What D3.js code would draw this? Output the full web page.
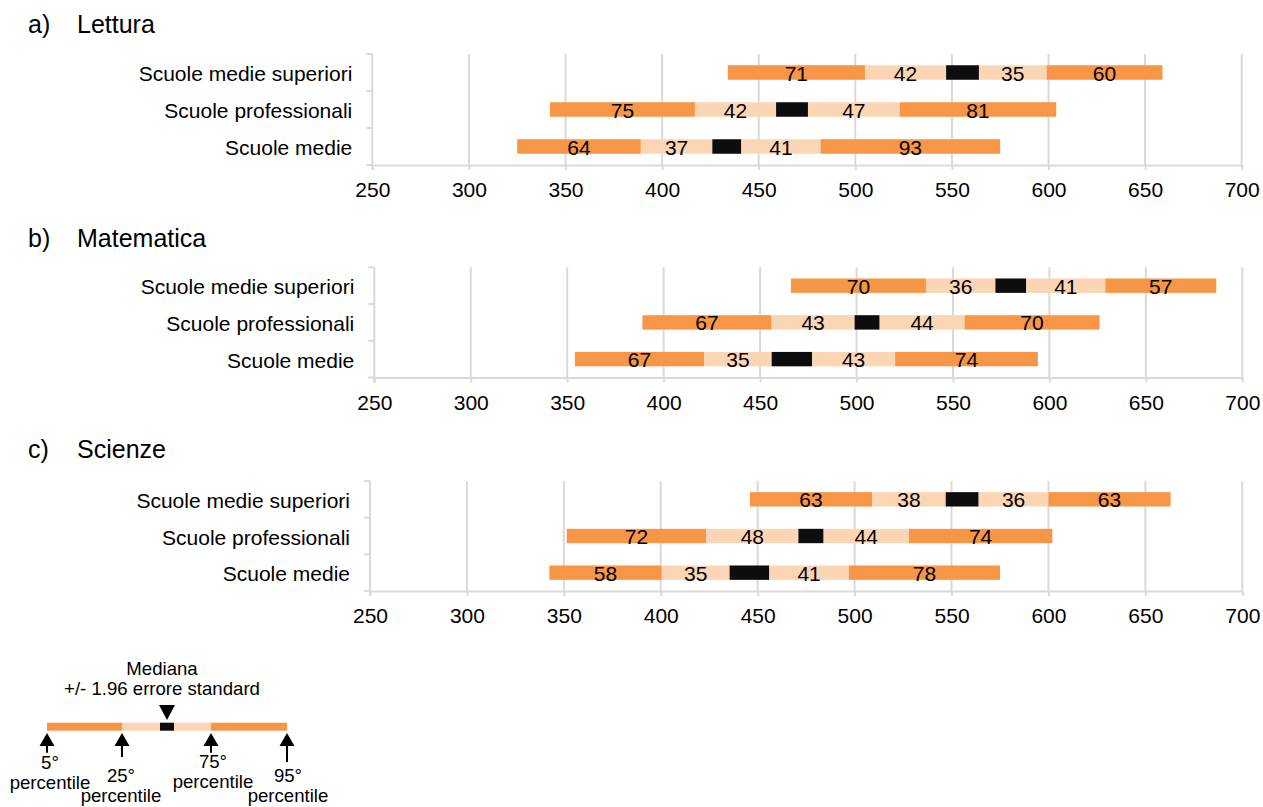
<!DOCTYPE html>
<html>
<head>
<meta charset="utf-8">
<script src="https://cdn.jsdelivr.net/npm/d3@7"></script>
<style>
  html, body { margin: 0; padding: 0; background: #fff; }
  svg { display: block; font-family: "Liberation Sans", Arial, sans-serif; }
</style>
</head>
<body>
<svg id="chart" width="1263" height="807"></svg>
<script>
// ---------- DATA ----------
const categories = ["Scuole medie superiori", "Scuole professionali", "Scuole medie"];
const xTicks = [250, 300, 350, 400, 450, 500, 550, 600, 650, 700];
const panelLetters = ["a)", "b)", "c)"];
const panelNames = ["Lettura", "Matematica", "Scienze"];

// [5° perc., 25° perc., mediana - 1.96 ES, mediana + 1.96 ES, 75° perc., 95° perc.]
const letturaStats = [[434, 505, 547, 564, 599, 659], [342, 417, 459, 475.5, 523, 604], [325, 389, 426, 441, 482, 575]];
const letturaLabels = [[71, 42, 35, 60], [75, 42, 47, 81], [64, 37, 41, 93]];
const matematicaStats = [[466, 536, 572, 588, 629, 686.5], [389, 456, 499, 512, 556, 626], [354, 421, 456, 477, 520, 594]];
const matematicaLabels = [[70, 36, 41, 57], [67, 43, 44, 70], [67, 35, 43, 74]];
const scienzeStats = [[446, 509, 547, 564, 600, 663], [351.5, 423.5, 471, 484, 528, 602], [342.5, 400.5, 435.5, 456, 497, 575]];
const scienzeLabels = [[63, 38, 36, 63], [72, 48, 44, 74], [58, 35, 41, 78]];

// Legend (schematic values)
const legendStats = [0, 75, 113, 127, 164, 240];
const legendPercentiles = ["5°", "25°", "75°", "95°"];
const legendTitle = ["Mediana", "+/- 1.96 errore standard"];

// ---------- STYLE / LAYOUT ----------
const ORANGE = "#F79646", LIGHT = "#FCD5B4", BLACK = "#0D0D0D", GRID = "#D9D9D9";
const segColors = [ORANGE, LIGHT, BLACK, LIGHT, ORANGE];
const panels = [
  {stats: letturaStats, labels: letturaLabels, left: 372.3, right: 1241.7, top: 54, bottom: 165, titleY: 33},
  {stats: matematicaStats, labels: matematicaLabels, left: 374.3, right: 1242.3, top: 267.3, bottom: 377.5, titleY: 246.5},
  {stats: scienzeStats, labels: scienzeLabels, left: 370, right: 1242.3, top: 481, bottom: 591, titleY: 458}
];

const svg = d3.select("#chart");

panels.forEach((p, pi) => {
  const g = svg.append("g");
  const x = d3.scaleLinear().domain([250, 700]).range([p.left, p.right]);
  const y = d3.scaleBand().domain(categories).range([p.top, p.bottom])
              .paddingInner(0.608).paddingOuter(0.304);
  const step = y.step();

  // title
  g.append("text").attr("x", 28).attr("y", p.titleY).attr("font-size", 25).attr("fill", "#000")
    .text(panelLetters[pi]);
  g.append("text").attr("x", 77).attr("y", p.titleY).attr("font-size", 25).attr("fill", "#000")
    .text(panelNames[pi]);

  // gridlines
  g.append("g").selectAll("line").data(xTicks.slice(1)).join("line")
    .attr("x1", d => x(d)).attr("x2", d => x(d))
    .attr("y1", p.top).attr("y2", p.bottom)
    .attr("stroke", GRID).attr("stroke-width", 2);

  // x axis
  const xAxis = d3.axisBottom(x).tickValues(xTicks).tickSize(5).tickPadding(12).tickSizeOuter(0);
  const ax = g.append("g").attr("transform", `translate(0,${p.bottom})`).call(xAxis);
  ax.select(".domain").attr("stroke", GRID).attr("stroke-width", 2);
  ax.selectAll(".tick line").attr("stroke", GRID).attr("stroke-width", 2);
  ax.selectAll(".tick text").attr("font-size", 21).attr("fill", "#000")
    .attr("font-family", "'Liberation Sans', Arial, sans-serif")
    .attr("dy", null).attr("y", 32);

  // y axis line + ticks
  g.append("line").attr("x1", x(250)).attr("x2", x(250)).attr("y1", p.top).attr("y2", p.bottom + 5)
    .attr("stroke", GRID).attr("stroke-width", 2);
  g.append("g").selectAll("line").data(d3.range(categories.length + 1)).join("line")
    .attr("x1", x(250) - 6).attr("x2", x(250))
    .attr("y1", i => p.top + i * step).attr("y2", i => p.top + i * step)
    .attr("stroke", GRID).attr("stroke-width", 2);

  // category labels
  g.append("g").selectAll("text").data(categories).join("text")
    .attr("x", x(250) - 20).attr("y", d => y(d) + y.bandwidth() / 2 + 8.5)
    .attr("text-anchor", "end").attr("font-size", 21).attr("fill", "#000")
    .text(d => d);

  // bars
  categories.forEach((cat, ci) => {
    const s = p.stats[ci];
    const segs = d3.range(5).map(k => ({from: s[k], to: s[k + 1], k}));
    const row = g.append("g");
    row.selectAll("rect").data(segs).join("rect")
      .attr("x", d => x(d.from)).attr("width", d => x(d.to) - x(d.from))
      .attr("y", y(cat)).attr("height", y.bandwidth())
      .attr("fill", d => segColors[d.k]);
    const labelled = segs.filter(d => d.k !== 2);
    row.selectAll("text").data(labelled).join("text")
      .attr("x", d => (x(d.from) + x(d.to)) / 2)
      .attr("y", y(cat) + y.bandwidth() / 2 + 8)
      .attr("text-anchor", "middle").attr("font-size", 21).attr("fill", "#000")
      .text((d, i) => p.labels[ci][i]);
  });
});

// ---------- LEGEND ----------
const lg = svg.append("g");
const LFS = 18.6;
const lx = d3.scaleLinear().domain([0, 240]).range([47, 287]);
const barTop = 722.7, barH = 8;
lg.selectAll("rect").data(d3.range(5)).join("rect")
  .attr("x", k => lx(legendStats[k])).attr("width", k => lx(legendStats[k + 1]) - lx(legendStats[k]))
  .attr("y", barTop).attr("height", barH).attr("fill", k => segColors[k]);

const medX = (lx(legendStats[2]) + lx(legendStats[3])) / 2;
lg.append("path")
  .attr("d", `M${medX - 8},705 L${medX + 8},705 L${medX},720 Z`).attr("fill", "#000");
lg.selectAll("text.lt").data(legendTitle).join("text").attr("class", "lt")
  .attr("x", medX - 5).attr("y", (d, i) => 675 + i * 20)
  .attr("text-anchor", "middle").attr("font-size", LFS).attr("fill", "#000").text(d => d);

const arrowIdx = [0, 1, 4, 5];
const stemEnd = [752.7, 757, 752.7, 762];
const numY = [769, 782, 768, 782];
const labDx = [3, -1, 2, 1];
arrowIdx.forEach((k, i) => {
  const ax0 = lx(legendStats[k]);
  lg.append("path").attr("d", `M${ax0},733 L${ax0 + 7.5},746 L${ax0 - 7.5},746 Z`).attr("fill", "#000");
  lg.append("line").attr("x1", ax0).attr("x2", ax0).attr("y1", 745).attr("y2", stemEnd[i])
    .attr("stroke", "#000").attr("stroke-width", 2);
  lg.append("text").attr("x", ax0 + labDx[i]).attr("y", numY[i]).attr("text-anchor", "middle")
    .attr("font-size", LFS).attr("fill", "#000").text(legendPercentiles[i]);
  lg.append("text").attr("x", ax0 + labDx[i]).attr("y", numY[i] + 20).attr("text-anchor", "middle")
    .attr("font-size", LFS).attr("fill", "#000").text("percentile");
});
</script>
</body>
</html>
